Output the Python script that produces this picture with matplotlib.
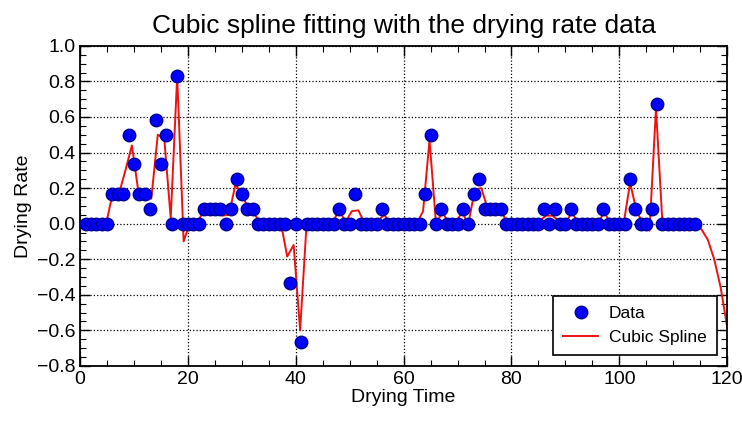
import numpy as np
import matplotlib
matplotlib.use("Agg")
import matplotlib.pyplot as plt
from matplotlib.ticker import MultipleLocator

plt.rcParams['font.family'] = ['Liberation Sans', 'DejaVu Sans']

# measured drying rate, one value per time step (t = 1..114)
t_data = np.arange(1, 115)
rate = [0, 0, 0, 0, 0, 0.167, 0.167, 0.167, 0.5, 0.333,
        0.167, 0.167, 0.083, 0.583, 0.333, 0.5, 0, 0.833, 0, 0,
        0, 0, 0.083, 0.083, 0.083, 0.083, 0, 0.083, 0.25, 0.167,
        0.083, 0.083, 0, 0, 0, 0, 0, 0, -0.333, 0,
        -0.667, 0, 0, 0, 0, 0, 0, 0.083, 0, 0,
        0.167, 0, 0, 0, 0, 0.083, 0, 0, 0, 0,
        0, 0, 0, 0.167, 0.5, 0, 0.083, 0, 0, 0,
        0.083, 0, 0.167, 0.25, 0.083, 0.083, 0.083, 0.083, 0, 0,
        0, 0, 0, 0, 0, 0.083, 0, 0.083, 0, 0,
        0.083, 0, 0, 0, 0, 0, 0.083, 0, 0, 0,
        0, 0.25, 0.083, 0, 0, 0.083, 0.675, 0, 0, 0,
        0, 0, 0, 0]

t_fit = np.linspace(0, 120, 101)
rate_fit = [0, 0, 0, 0, -0.005, 0.167, 0.167, 0.30, 0.44, 0.18,
            0.165, 0.14, 0.50, 0.48, 0.03, 0.83, -0.10, 0.01, 0, 0.065,
            0.083, 0.083, 0.045, 0.05, 0.22, 0.167, 0.083, 0.05, 0, 0,
            0, 0.01, -0.185, -0.12, -0.60, 0, 0.01, 0, 0, 0,
            0.08, 0.01, 0.07, 0.075, 0, 0, 0.015, 0.05, 0, 0,
            0, 0, 0, 0.07, 0.47, 0, 0.065, 0, 0, 0.065,
            0, 0.19, 0.20, 0.083, 0.083, 0.083, 0, 0, 0, 0,
            0, 0.015, 0.045, 0.045, 0.015, 0, 0.065, 0, 0, 0,
            0, 0.065, 0, 0, 0, 0.23, 0.07, 0, -0.04, 0.65,
            0, 0.01, 0, 0, 0, 0, -0.03, -0.09, -0.20, -0.36,
            -0.58]

fig = plt.figure(figsize=(7.42, 4.21), dpi=100)
ax = fig.add_axes([0.108, 0.131, 0.872, 0.760])

ax.plot(t_data, rate, 'o', color='#0000ff', markeredgecolor='#00009a',
        markersize=9, label='Data', zorder=3)
ax.plot(t_fit, rate_fit, '-', color='#ee1111', lw=1.4, label='Cubic Spline', zorder=2)

ax.set_xlim(0, 120)
ax.set_ylim(-0.8, 1.0)
ax.xaxis.set_major_locator(MultipleLocator(20))
ax.xaxis.set_minor_locator(MultipleLocator(5))
ax.yaxis.set_major_locator(MultipleLocator(0.2))
ax.yaxis.set_minor_locator(MultipleLocator(0.05))
ax.tick_params(which='both', direction='in', top=True, right=True, labelsize=14)
ax.tick_params(which='major', length=7, width=1)
ax.tick_params(which='minor', length=4, width=0.8)
ax.grid(True, which='major', color='black', linestyle=':', linewidth=0.9)
for s in ax.spines.values():
    s.set_linewidth(1.3)

ax.set_title('Cubic spline fitting with the drying rate data', fontsize=19, pad=9)
ax.set_xlabel('Drying Time', fontsize=14, labelpad=1)
ax.set_ylabel('Drying Rate', fontsize=14, labelpad=3)

leg = ax.legend(loc='lower right', fontsize=12.5, numpoints=1, fancybox=False,
                framealpha=1, edgecolor='black', borderpad=0.6, handlelength=2.0,
                handletextpad=0.6, borderaxespad=0.6)
leg.get_frame().set_linewidth(1.2)

fig.savefig('out.png', dpi=100)
